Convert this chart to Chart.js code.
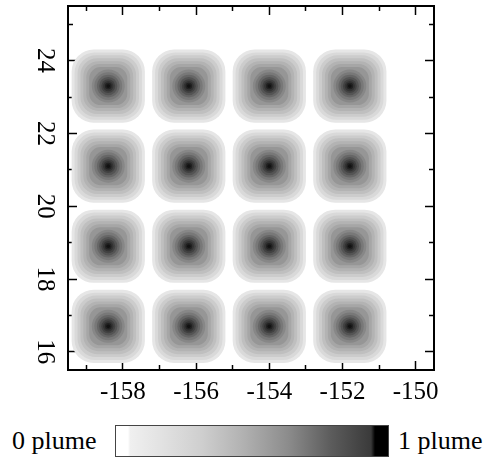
<!DOCTYPE html>
<html>
<head>
<meta charset="utf-8">
<script src="https://cdn.jsdelivr.net/npm/chart.js@4/dist/chart.umd.min.js"></script>
<style>
    body { margin: 0; background: #fff; overflow: hidden; }
    #wrap { position: relative; width: 491px; height: 458px; font-family: "Liberation Serif", "DejaVu Serif", serif; }
    #plot { position: absolute; left: 0; top: 0; }
    .lab { position: absolute; top: 427px; font-size: 26px; line-height: 28px; color: #000; white-space: nowrap; }
    #bar {
        position: absolute; left: 115px; top: 425px; width: 272px; height: 30px;
        border: 1px solid #444;
        background: linear-gradient(to right, #fff 0px, #fff 12px, #f0f0f0 14px, #e2e2e2 45px,
            #cfcfcf 85px, #b3b3b3 125px, #8c8c8c 172px, #5c5c5c 215px, #3a3a3a 255px, #000 259px, #000 272px);
    }
</style>
</head>
<body>
<div id="wrap">
    <canvas id="plot" width="491" height="410"></canvas>
    <span class="lab" style="left:12px">0 plume</span>
    <div id="bar"></div>
    <span class="lab" style="left:398px">1 plume</span>
</div>
<script>
// centres of the 16 plumes (lon, lat)
const plumeLon = [-158.4, -156.2, -154.0, -151.8];
const plumeLat = [16.7, 18.9, 21.1, 23.3];
// plume profile: half width (deg) and concentration, outside -> centre
const ringHalfWidth = [1.0, 0.92, 0.84, 0.76, 0.68, 0.6, 0.52, 0.45, 0.38, 0.31, 0.25, 0.19, 0.14, 0.09, 0.05];
const ringPlume = [0.1, 0.15, 0.2, 0.25, 0.3, 0.35, 0.41, 0.47, 0.53, 0.6, 0.67, 0.74, 0.8, 0.87, 0.93];

const xTickLabels = [-158, -156, -154, -152, -150];
const yTickLabels = [16, 18, 20, 22, 24];
const xMinorTicks = [-159, -157, -155, -153, -151];
const yMinorTicks = [17, 19, 21, 23, 25];
const xRange = [-159.5, -149.5];
const yRange = [15.5, 25.5];

const centres = [];
plumeLat.forEach(lat => plumeLon.forEach(lon => centres.push({ x: lon, y: lat })));

function grey(v) {
    const g = Math.round(255 * (1 - v));
    return 'rgb(' + g + ',' + g + ',' + g + ')';
}

// point radius in pixels for a half width given in degrees
function ringRadius(chart, h, style) {
    const s = chart.scales.x;
    const px = Math.abs(s.getPixelForValue(xRange[0] + h) - s.getPixelForValue(xRange[0]));
    return style === 'rectRounded' ? px / 0.858 : px;
}

const datasets = ringHalfWidth.map((h, i) => {
    const style = h >= 0.5 ? 'rectRounded' : 'circle';
    return {
        data: centres,
        pointStyle: style,
        pointBackgroundColor: grey(ringPlume[i]),
        pointBorderWidth: 0,
        pointRadius: c => ringRadius(c.chart, h, style),
        order: -i
    };
});

const tickFont = { family: 'Liberation Serif', size: 25 };
const frame = { display: true, color: '#000', width: 2 };

function setTicks(values) {
    return s => { s.ticks = values.map(v => ({ value: v })); };
}
function fixSize(size) {
    return s => {
        if (s.isHorizontal()) s.height = size; else s.width = size;
        s.paddingLeft = s.paddingRight = s.paddingTop = s.paddingBottom = 0;
    };
}
function tickGrid(len) {
    return { drawOnChartArea: false, drawTicks: true, tickLength: -len, tickWidth: 1.5, tickColor: '#000' };
}
function markAxis(pos, range, values, len, weight) {
    return {
        type: 'linear', position: pos, min: range[0], max: range[1], weight: weight,
        border: weight > 0 ? frame : { display: false },
        grid: tickGrid(len),
        ticks: { display: false },
        afterBuildTicks: setTicks(values),
        afterFit: fixSize(0)
    };
}

new Chart(document.getElementById('plot'), {
    type: 'scatter',
    data: { datasets: datasets },
    options: {
        responsive: false,
        animation: false,
        events: [],
        layout: { padding: { left: 0, top: 6, right: 57, bottom: 0 } },
        plugins: { legend: { display: false }, tooltip: { enabled: false } },
        scales: {
            x: {
                type: 'linear', position: 'bottom', min: xRange[0], max: xRange[1], weight: 1,
                border: frame,
                grid: tickGrid(9),
                ticks: { color: '#000', font: tickFont, padding: 16, maxRotation: 0, autoSkip: false,
                    callback: v => String(v) },
                afterBuildTicks: setTicks(xTickLabels),
                afterFit: fixSize(40)
            },
            y: {
                type: 'linear', position: 'left', min: yRange[0], max: yRange[1], weight: 1,
                border: frame,
                grid: tickGrid(9),
                ticks: { color: '#000', font: tickFont, padding: 20, minRotation: -90, maxRotation: -90,
                    crossAlign: 'center', autoSkip: false, callback: v => String(v) },
                afterBuildTicks: setTicks(yTickLabels),
                afterFit: fixSize(68)
            },
            xMinor: markAxis('bottom', xRange, xMinorTicks, 5, 0),
            xTop: markAxis('top', xRange, xTickLabels, 9, 1),
            xTopMinor: markAxis('top', xRange, xMinorTicks, 5, 0),
            yMinor: markAxis('left', yRange, yMinorTicks, 5, 0),
            yRight: markAxis('right', yRange, yTickLabels, 9, 1),
            yRightMinor: markAxis('right', yRange, yMinorTicks, 5, 0)
        }
    }
});
</script>
</body>
</html>
